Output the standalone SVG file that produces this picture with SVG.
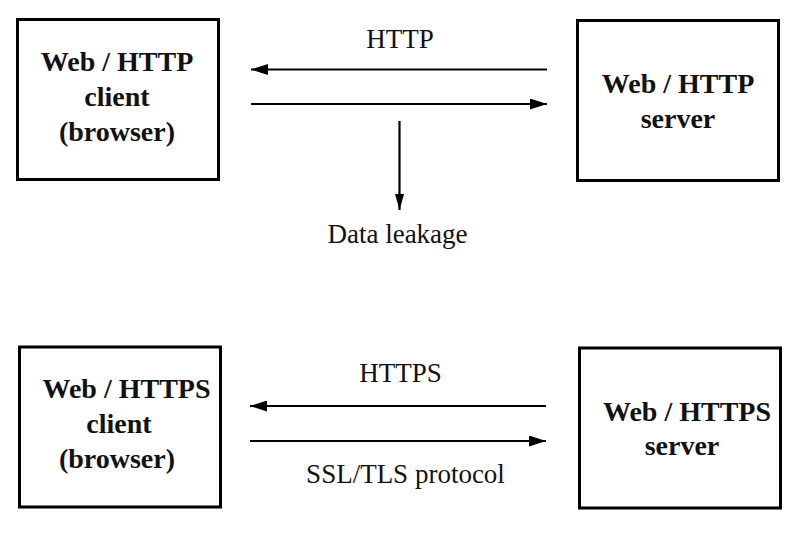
<svg xmlns="http://www.w3.org/2000/svg" width="806" height="534" viewBox="0 0 806 534">
<defs>
<marker id="ah" viewBox="0 0 17 11" refX="17" refY="5.5" markerWidth="17" markerHeight="11" markerUnits="userSpaceOnUse" orient="auto">
<path d="M0,0 L17,5.5 L0,11 Z" fill="#000"/>
</marker>
<marker id="av" viewBox="0 0 16 9" refX="16" refY="4.5" markerWidth="16" markerHeight="9" markerUnits="userSpaceOnUse" orient="auto">
<path d="M0,0 L16,4.5 L0,9 Z" fill="#000"/>
</marker>
</defs>
<style>
.box{fill:#fff;stroke:#000;stroke-width:3}
.bt{font-family:'Liberation Serif','DejaVu Serif',serif;font-weight:bold;font-size:28px;text-anchor:middle;fill:#111}
.lt{font-family:'Liberation Serif','DejaVu Serif',serif;font-size:27px;text-anchor:middle;fill:#111}
.ln{stroke:#000;stroke-width:2.2;fill:none}
</style>
<rect width="806" height="534" fill="#fff"/>
<g id="http-client">
<rect class="box" x="17.5" y="19.5" width="201" height="160"/>
<text class="bt" x="117" y="71">Web / HTTP</text>
<text class="bt" x="117" y="106">client</text>
<text class="bt" x="117" y="141">(browser)</text>
</g>
<g id="http-server">
<rect class="box" x="577.5" y="20.5" width="201" height="160"/>
<text class="bt" x="678" y="93">Web / HTTP</text>
<text class="bt" x="678" y="128">server</text>
</g>
<g id="https-client">
<rect class="box" x="19.5" y="347" width="201" height="160"/>
<text class="bt" x="126.5" y="398">Web / HTTPS</text>
<text class="bt" x="119" y="433">client</text>
<text class="bt" x="117" y="468">(browser)</text>
</g>
<g id="https-server">
<rect class="box" x="579.5" y="348" width="201" height="160"/>
<text class="bt" x="687" y="421">Web / HTTPS</text>
<text class="bt" x="682" y="455">server</text>
</g>
<g id="connectors">
<line class="ln" x1="547" y1="69.5" x2="251" y2="69.5" marker-end="url(#ah)"/>
<line class="ln" x1="251" y1="104" x2="547" y2="104" marker-end="url(#ah)"/>
<line class="ln" x1="399.5" y1="121" x2="399.5" y2="210" marker-end="url(#av)"/>
<line class="ln" x1="546" y1="406" x2="250" y2="406" marker-end="url(#ah)"/>
<line class="ln" x1="250" y1="441" x2="546" y2="441" marker-end="url(#ah)"/>
</g>
<g id="labels">
<text class="lt" x="400" y="48">HTTP</text>
<text class="lt" x="397.5" y="243">Data leakage</text>
<text class="lt" x="400.5" y="382">HTTPS</text>
<text class="lt" x="405.5" y="483">SSL/TLS protocol</text>
</g>
</svg>
